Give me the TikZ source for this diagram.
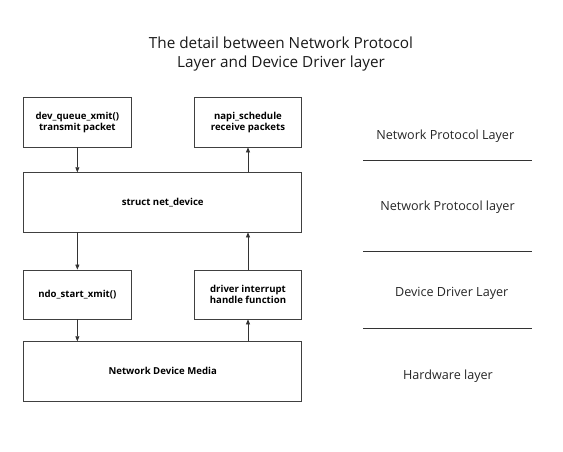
\documentclass[tikz,border=0pt]{standalone}
\usepackage{fontspec}
\setmainfont{Open Sans}
\usetikzlibrary{arrows.meta}
\begin{document}
\begin{tikzpicture}[x=1pt,y=-1pt,
  box/.style={draw=black!75,line width=0.8pt,inner sep=0pt,align=center,font=\bfseries\fontsize{9.6}{11.6}\selectfont},
  conn/.style={draw=black!80,line width=0.7pt,-{Triangle[width=4pt,length=5pt]}},
  lay/.style={font=\fontsize{12.6}{14}\selectfont,text=black!85},
  sep/.style={draw=black!80,line width=0.7pt}]
\useasboundingbox (0,0) rectangle (563,451);
\node[font=\fontsize{15.3}{19}\selectfont,align=center,text=black!90] (title) at (281,54) {The detail between Network Protocol\\Layer and Device Driver layer};
\node[box,minimum width=107.3pt,minimum height=49.3pt] (dq) at (77.35,122.35) {dev\_queue\_xmit()\\transmit packet};
\node[box,minimum width=107.3pt,minimum height=49.3pt] (napi) at (248,122.35) {napi\_schedule\\receive packets};
\node[box,minimum width=278pt,minimum height=59.3pt] (net) at (162.7,202.35) {struct net\_device};
\node[box,minimum width=107.3pt,minimum height=49pt] (ndo) at (77.35,294.5) {ndo\_start\_xmit()};
\node[box,minimum width=107.3pt,minimum height=49pt] (drv) at (248,294.5) {driver interrupt\\handle function};
\node[box,minimum width=278pt,minimum height=59.3pt] (media) at (162.7,371.35) {Network Device Media};
\draw[conn] (dq.south) -- (dq.south |- net.north);
\draw[conn] (napi.south |- net.north) -- (napi.south);
\draw[conn] (ndo.north |- net.south) -- (ndo.north);
\draw[conn] (drv.north) -- (drv.north |- net.south);
\draw[conn] (ndo.south) -- (ndo.south |- media.north);
\draw[conn] (drv.south |- media.north) -- (drv.south);
\node[lay] (l1) at (445.3,136) {Network Protocol Layer};
\node[lay] (l2) at (447.5,207.4) {Network Protocol layer};
\node[lay] (l3) at (451.7,293.4) {Device Driver Layer};
\node[lay] (l4) at (448,376) {Hardware layer};
\coordinate (s1a) at (363.3,160); \coordinate (s1b) at (532.3,160);
\coordinate (s2a) at (363.3,251.7); \coordinate (s2b) at (532.3,251.7);
\coordinate (s3a) at (363.3,328.3); \coordinate (s3b) at (532.3,328.3);
\draw[sep] (s1a) -- (s1b);
\draw[sep] (s2a) -- (s2b);
\draw[sep] (s3a) -- (s3b);
\end{tikzpicture}
\end{document}
